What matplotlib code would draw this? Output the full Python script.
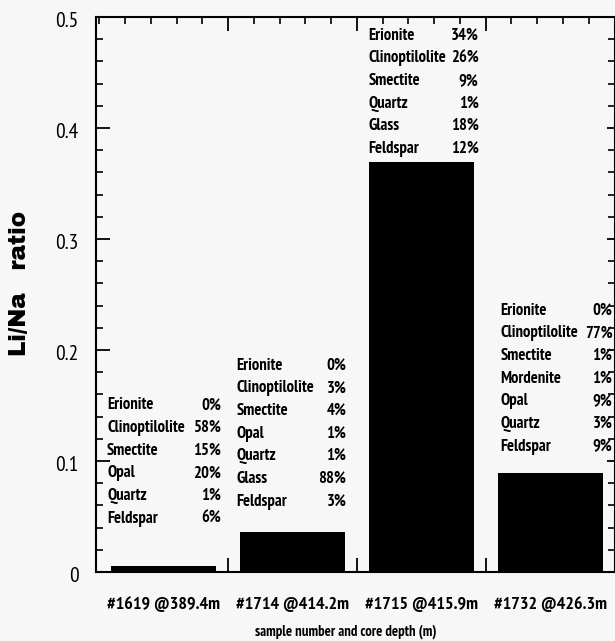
import matplotlib
matplotlib.use("Agg")
import matplotlib.pyplot as plt
from matplotlib import font_manager
from matplotlib.ticker import MultipleLocator, FixedLocator

# ---------------- data ----------------
samples = ["#1619 @389.4m", "#1714 @414.2m", "#1715 @415.9m", "#1732 @426.3m"]
li_na = [0.005, 0.036, 0.369, 0.089]

minerals_1619 = [("Erionite", "0%"), ("Clinoptilolite", "58%"), ("Smectite", "15%"),
                 ("Opal", "20%"), ("Quartz", "1%"), ("Feldspar", "6%")]
minerals_1714 = [("Erionite", "0%"), ("Clinoptilolite", "3%"), ("Smectite", "4%"),
                 ("Opal", "1%"), ("Quartz", "1%"), ("Glass", "88%"), ("Feldspar", "3%")]
minerals_1715 = [("Erionite", "34%"), ("Clinoptilolite", "26%"), ("Smectite", "9%"),
                 ("Quartz", "1%"), ("Glass", "18%"), ("Feldspar", "12%")]
minerals_1732 = [("Erionite", "0%"), ("Clinoptilolite", "77%"), ("Smectite", "1%"),
                 ("Mordenite", "1%"), ("Opal", "9%"), ("Quartz", "3%"), ("Feldspar", "9%")]
mineral_tables = [minerals_1619, minerals_1714, minerals_1715, minerals_1732]

x_label = "sample number and core depth (m)"
y_label = "Li/Na   ratio"

# ---------------- layout (positions only) ----------------
# block: (left offset from bar centre, right offset, y of first row)
block_layout = [(-0.438, 0.444, 0.1525), (-0.436, 0.418, 0.1883),
                (-0.411, 0.444, 0.4856), (-0.385, 0.484, 0.2378)]
row_step = 0.0204

avail = {f.name for f in font_manager.fontManager.ttflist}
def pick(cands):
    for c in cands:
        if c in avail:
            return c
    return "DejaVu Sans"
narrow = pick(["PT Sans Narrow", "Roboto Condensed", "Archivo Narrow", "Liberation Sans Narrow"])
heavy = pick(["Archivo Black", "DejaVu Sans"])

bg = "#f7f7f7"
fig = plt.figure(figsize=(6.15, 6.41), dpi=100, facecolor=bg)
ax = fig.add_axes([96 / 615, 1 - 572 / 641, 518.5 / 615, 555 / 641], facecolor=bg)

xpos = [i + 0.5 for i in range(len(samples))]
ax.bar(xpos, li_na, width=0.815, color="black", zorder=3)

ax.set_xlim(-0.025, 4.0)
ax.set_ylim(0, 0.5)

# y ticks
ax.yaxis.set_major_locator(MultipleLocator(0.1))
ax.yaxis.set_minor_locator(MultipleLocator(0.02))
ax.tick_params(axis="y", which="major", direction="in", length=10, width=1.3,
               left=True, right=False, labelleft=False)
ax.tick_params(axis="y", which="minor", direction="in", length=5, width=1.2,
               left=True, right=False)
for v in [0, 0.1, 0.2, 0.3, 0.4, 0.5]:
    lab = "0" if v == 0 else f"{v:.1f}"
    ax.text(-0.16, v - 0.004, lab, ha="right", va="center", fontsize=15.5,
            family=narrow, clip_on=False)

# right axis ticks
ax_r = ax.secondary_yaxis("right")
ax_r.yaxis.set_major_locator(MultipleLocator(0.1))
ax_r.yaxis.set_minor_locator(MultipleLocator(0.02))
ax_r.tick_params(axis="y", which="major", direction="inout", length=12, width=1.3, labelright=False)
ax_r.tick_params(axis="y", which="minor", direction="in", length=5, width=1.2)
ax_r.spines["right"].set_visible(False)

# x ticks
ax.xaxis.set_major_locator(FixedLocator([1, 2, 3]))
ax.xaxis.set_minor_locator(MultipleLocator(0.2))
ax.tick_params(axis="x", which="major", direction="in", length=10, width=1.3,
               bottom=True, top=True, labelbottom=False)
ax.tick_params(axis="x", which="minor", direction="in", length=5, width=1.2,
               bottom=False, top=True)
for x, s in zip(xpos, samples):
    ax.text(x, -0.0297, s, ha="center", va="center", fontsize=13, family=narrow,
            weight="bold", clip_on=False)

ax.text(0.482, -0.107, x_label, ha="center", va="center", fontsize=10.5, family=narrow,
        weight="bold", transform=ax.transAxes, clip_on=False)
fig.text(20 / 615, 1 - 283 / 641, y_label, rotation=90, ha="center", va="center",
         fontsize=16.5, weight="bold", family=heavy)

for sp in ["left", "bottom", "top", "right"]:
    ax.spines[sp].set_linewidth(1.5)

# mineral blocks
for xc, table, (lo, ro, y0) in zip(xpos, mineral_tables, block_layout):
    for k, (name, pct) in enumerate(table):
        y = y0 - k * row_step - 0.006
        ax.text(xc + lo, y, name, ha="left", va="baseline", fontsize=12,
                family=narrow, weight="bold", zorder=4)
        ax.text(xc + ro, y, pct, ha="right", va="baseline", fontsize=12,
                family=narrow, weight="bold", zorder=4)

fig.savefig("out.png", dpi=100, facecolor=bg)
